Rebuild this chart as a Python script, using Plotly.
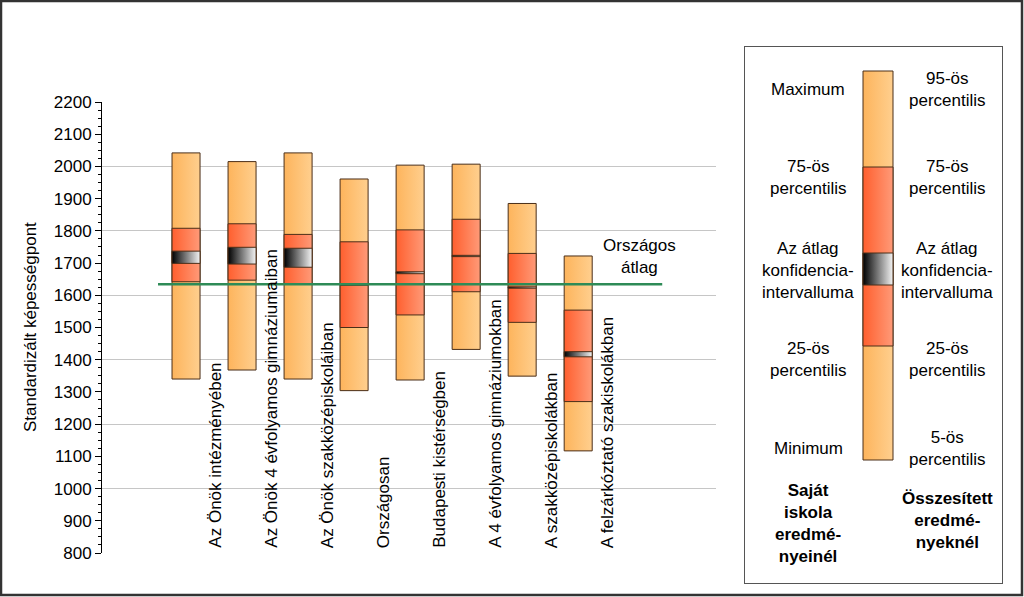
import plotly.graph_objects as go

# ---------------- data ----------------
categories = [
    "Az Önök intézményében",
    "Az Önök 4 évfolyamos gimnáziumaiban",
    "Az Önök szakközépiskoláiban",
    "Országosan",
    "Budapesti kistérségben",
    "A 4 évfolyamos gimnáziumokban",
    "A szakközépiskolákban",
    "A felzárkóztató szakiskolákban",
]
p_low = [1340, 1368, 1340, 1304, 1337, 1432, 1349, 1117]
p25 = [1642, 1647, 1636, 1500, 1539, 1611, 1516, 1270]
ci_low = [1699, 1697, 1687, 1631, 1667, 1720, 1622, 1409]
ci_high = [1737, 1749, 1746, 1635, 1673, 1724, 1626, 1425]
p75 = [1808, 1822, 1789, 1766, 1803, 1836, 1730, 1554]
p_high = [2042, 2015, 2042, 1961, 2004, 2007, 1885, 1722]
national_mean = 1634
y_ticks = list(range(800, 2201, 100))

legend_levels = [460, 346, 285, 253, 167, 71]  # low, p25, ci_low, ci_high, p75, high (legend scale)
legend_left = ["Maximum", "75-ös<br>percentilis", "Az átlag<br>konfidencia-<br>intervalluma",
               "25-ös<br>percentilis", "Minimum"]
legend_right = ["95-ös<br>percentilis", "75-ös<br>percentilis", "Az átlag<br>konfidencia-<br>intervalluma",
                "25-ös<br>percentilis", "5-ös<br>percentilis"]
legend_text_pos = [90, 177, 270, 359, 448]
legend_left_title = "Saját<br>iskola<br>eredmé-<br>nyeinél"
legend_right_title = "Összesített<br>eredmé-<br>nyeknél"

# ---------------- style ----------------
FONT = "Liberation Sans, Arial, sans-serif"
FS = 17
W, H = 1024, 597
LIGHT = [[0, "#FDB45C"], [1, "#FFCF8E"]]
RED = [[0, "#FF5F2E"], [1, "#FF9A78"]]
CI = [[0, "#000000"], [1, "#F4F4F4"]]
EDGE = "#4A2E18"
half_w = 0.25

fig = go.Figure()

# anchor trace so the base (grid) subplot exists
fig.add_trace(go.Scatter(x=[-1.5], y=[800], mode="markers", marker=dict(opacity=0),
                         xaxis="x", yaxis="y", hoverinfo="skip", showlegend=False))


def seg(x, lo, hi, scale, xa="x", ya="y2", hw=half_w, lw=1):
    fig.add_trace(go.Scatter(
        x=[x - hw, x + hw, x + hw, x - hw, x - hw],
        y=[lo, lo, hi, hi, lo],
        mode="lines", fill="toself",
        fillgradient=dict(type="horizontal", colorscale=scale),
        line=dict(color=EDGE, width=lw),
        xaxis=xa, yaxis=ya, hoverinfo="skip", showlegend=False,
    ))


for i in range(len(categories)):
    seg(i, p_low[i], p_high[i], LIGHT)
    seg(i, p25[i], p75[i], RED)
    seg(i, ci_low[i], ci_high[i], CI)

# national average line
fig.add_trace(go.Scatter(
    x=[-0.5, len(categories) + 0.5], y=[national_mean, national_mean],
    mode="lines", line=dict(color="#2E8B57", width=2.5),
    xaxis="x", yaxis="y2", hoverinfo="skip", showlegend=False,
))

# legend bar
lx = 878
seg(lx, legend_levels[0], legend_levels[5], LIGHT, xa="x3", ya="y3", hw=15)
seg(lx, legend_levels[1], legend_levels[4], RED, xa="x3", ya="y3", hw=15)
seg(lx, legend_levels[2], legend_levels[3], CI, xa="x3", ya="y3", hw=15)

annotations = []
for i, c in enumerate(categories):
    annotations.append(dict(
        x=i + 0.52, y=800, xref="x", yref="y2", text=c, textangle=-90,
        showarrow=False, xanchor="center", yanchor="bottom", yshift=3,
        font=dict(family=FONT, size=FS, color="black"),
    ))
annotations.append(dict(
    x=8.1, y=1719, xref="x", yref="y2", text="Országos<br>átlag", showarrow=False,
    font=dict(family=FONT, size=FS, color="black"), align="center",
))
annotations.append(dict(
    x=30 / W, y=(H - 327) / H, xref="paper", yref="paper",
    text="Standardizált képességpont", textangle=-90, showarrow=False,
    xanchor="center", yanchor="middle",
    font=dict(family=FONT, size=FS, color="black"),
))
for t, yv in zip(legend_left, legend_text_pos):
    annotations.append(dict(x=808, y=yv, xref="x3", yref="y3", text=t, showarrow=False,
                            font=dict(family=FONT, size=FS, color="black"), align="center"))
for t, yv in zip(legend_right, legend_text_pos):
    annotations.append(dict(x=947, y=yv, xref="x3", yref="y3", text=t, showarrow=False,
                            font=dict(family=FONT, size=FS, color="black"), align="center"))
annotations.append(dict(x=808, y=523, xref="x3", yref="y3",
                        text="<b>" + legend_left_title.replace("<br>", "</b><br><b>") + "</b>",
                        showarrow=False, font=dict(family=FONT, size=FS, color="black"), align="center"))
annotations.append(dict(x=947, y=520, xref="x3", yref="y3",
                        text="<b>" + legend_right_title.replace("<br>", "</b><br><b>") + "</b>",
                        showarrow=False, font=dict(family=FONT, size=FS, color="black"), align="center"))

x_dom = [102 / W, 716 / W]
y_dom = [(H - 553) / H, (H - 102) / H]

fig.update_layout(
    width=W, height=H, autosize=False,
    margin=dict(l=0, r=0, t=0, b=0, pad=0, autoexpand=False),
    paper_bgcolor="white", plot_bgcolor="rgba(0,0,0,0)",
    font=dict(family=FONT, size=FS, color="black"),
    showlegend=False,
    annotations=annotations,
    xaxis=dict(domain=x_dom, range=[-1.5, 9.46], visible=False, fixedrange=True, automargin=False),
    yaxis=dict(domain=y_dom, range=[800, 2200], tick0=800, dtick=200, showgrid=True,
               gridcolor="#C6C6C6", gridwidth=1, showticklabels=False, ticks="",
               showline=False, zeroline=False, anchor="x", automargin=False),
    yaxis2=dict(overlaying="y", anchor="x", side="left", range=[800, 2200],
                tickvals=y_ticks, ticktext=[str(v) for v in y_ticks],
                ticks="outside", ticklen=6, tickcolor="black", tickwidth=1,
                showline=True, linecolor="black", linewidth=1, showgrid=False, zeroline=False,
                tickfont=dict(family=FONT, size=FS, color="black"), automargin=False,
                minor=dict(dtick=25, tick0=800, ticks="outside", ticklen=3, tickcolor="black", showgrid=False)),
    xaxis3=dict(domain=[745 / W, 1002 / W], range=[745, 1002], anchor="y3", automargin=False,
                showgrid=False, zeroline=False, showticklabels=False, ticks="",
                showline=True, mirror=True, linecolor="#555555", linewidth=1),
    yaxis3=dict(domain=[(H - 583) / H, (H - 47) / H], range=[583, 47], anchor="x3", automargin=False,
                showgrid=False, zeroline=False, showticklabels=False, ticks="",
                showline=True, mirror=True, linecolor="#555555", linewidth=1),
    shapes=[dict(type="rect", xref="paper", yref="paper", x0=1 / W, x1=1022 / W,
                 y0=(H - 595) / H, y1=(H - 1) / H, line=dict(color="#333333", width=2.5),
                 fillcolor="rgba(0,0,0,0)", layer="above")],
)

post = (
    "var gd=document.getElementById('{plot_id}');"
    "gd.style.position='fixed';gd.style.left='0px';gd.style.top='0px';"
    "document.body.style.margin='0px';"
)
fig.write_html("out.html", post_script=post,
               config={"displayModeBar": False, "responsive": False})
